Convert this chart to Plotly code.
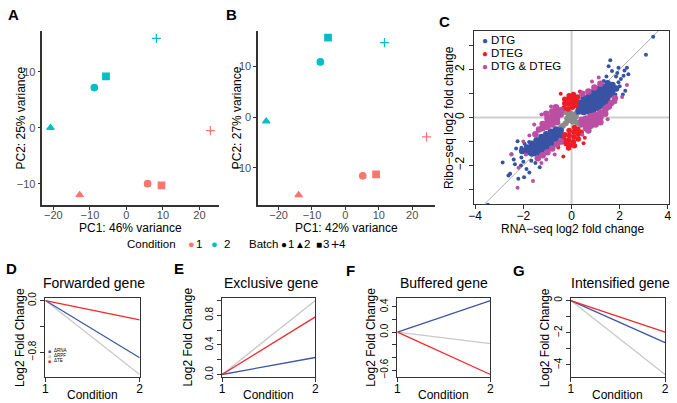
import plotly.graph_objects as go

W, H = 677, 403

# ---------------- data ----------------
# PCA panels (A, B)
pca_condition = [1, 1, 1, 1, 2, 2, 2, 2]
pca_batch = [1, 2, 3, 4, 1, 2, 3, 4]
pca_a_pc1 = [5.8, -12.8, 9.6, 23.0, -8.8, -20.8, -5.6, 8.2]
pca_a_pc2 = [-10.0, -12.0, -10.3, -0.5, 7.2, 0.0, 9.2, 16.0]
pca_b_pc1 = [5.2, -14.0, 9.2, 24.3, -7.5, -23.7, -5.2, 11.7]
pca_b_pc2 = [-11.6, -15.4, -11.3, -3.9, 10.9, -0.8, 15.7, 14.7]
condition_colors = {1: "#F8766D", 2: "#00BFC4"}
batch_symbols = {1: "circle", 2: "triangle-up", 3: "square", 4: "cross-thin"}

# Scatter panel (C): (RNA-seq log2FC, Ribo-seq log2FC)
other_genes = [(0.0, 0.0), (0.12, 0.12), (0.24, 0.24), (0.36, 0.34), (-0.12, -0.12),
               (-0.24, -0.24), (-0.36, -0.35), (0.12, -0.12), (0.24, -0.22), (0.36, -0.32),
               (-0.12, 0.12), (-0.24, 0.22), (-0.36, 0.32), (0.06, 0.0), (-0.06, 0.0),
               (0.0, 0.07), (0.0, -0.07), (0.44, 0.42), (-0.44, -0.42), (0.18, 0.05),
               (-0.18, -0.05), (0.05, -0.18), (-0.05, 0.18)]
dtg_dense = [(0.3, 0.25), (0.3, 0.45), (0.3, 0.62),
             (0.5, 0.22), (0.5, 0.42), (0.5, 0.62), (0.5, 0.8),
             (0.7, 0.25), (0.7, 0.45), (0.7, 0.65), (0.7, 0.85),
             (0.9, 0.3), (0.9, 0.5), (0.9, 0.7), (0.9, 0.9), (0.9, 1.05),
             (1.1, 0.38), (1.1, 0.58), (1.1, 0.78), (1.1, 0.98), (1.1, 1.18),
             (1.3, 0.48), (1.3, 0.68), (1.3, 0.88), (1.3, 1.08), (1.3, 1.28),
             (1.5, 0.65), (1.5, 0.85), (1.5, 1.05), (1.5, 1.25), (1.5, 1.42),
             (1.7, 0.95), (1.7, 1.15), (1.7, 1.35), (1.85, 1.2),
             (-0.45, -0.55), (-0.45, -0.75),
             (-0.65, -0.5), (-0.65, -0.7), (-0.65, -0.9),
             (-0.85, -0.6), (-0.85, -0.8), (-0.85, -1.0), (-0.85, -1.15),
             (-1.05, -0.7), (-1.05, -0.9), (-1.05, -1.1), (-1.05, -1.28),
             (-1.25, -0.82), (-1.25, -1.02), (-1.25, -1.22), (-1.25, -1.4),
             (-1.45, -0.95), (-1.45, -1.15), (-1.45, -1.35), (-1.45, -1.52),
             (-1.65, -1.1), (-1.65, -1.3), (-1.65, -1.5),
             (-1.85, -1.25), (-1.85, -1.45), (-2.05, -1.4)]
dtg_sparse = [(3.39, 3.36), (3.09, 2.61), (1.61, 2.38), (1.54, 2.13), (1.68, 1.93),
              (1.95, 2.07), (2.30, 2.07), (2.36, 1.80), (2.16, 1.73), (2.23, 1.11),
              (2.13, 0.95), (1.82, 0.95), (1.95, 1.46), (1.34, 1.52), (2.05, 1.6),
              (1.85, 1.7), (2.0, 1.3), (1.45, 1.7), (1.9, 1.85), (2.2, 1.95),
              (-2.24, -0.99), (-1.76, -1.03), (-2.08, -1.27), (-2.49, -1.54), (-2.86, -1.88),
              (-2.08, -1.67), (-2.35, -1.95), (-2.55, -2.35), (-2.62, -2.42), (-2.21, -2.56),
              (-1.97, -2.49), (-3.47, -3.64), (-1.32, -2.08), (-1.67, -1.81), (-1.87, -2.15),
              (-2.3, -1.3), (-1.95, -1.1), (-2.1, -2.0), (-1.5, -1.9), (-2.4, -1.75),
              (-2.0, -1.85), (-1.75, -2.3)]
dteg_dense = [(-0.32, 0.38), (-0.28, 0.58), (-0.14, 0.35), (-0.14, 0.55), (-0.14, 0.75),
              (-0.1, 0.9), (0.04, 0.42), (0.04, 0.62), (0.04, 0.8), (0.18, 0.5),
              (0.2, 0.7), (-0.28, 0.76), (0.08, 0.95), (0.25, 0.85),
              (0.12, -0.42), (0.26, -0.5), (-0.1, -0.55), (0.1, -0.62), (0.28, -0.7),
              (-0.28, -0.72), (-0.1, -0.75), (0.1, -0.82), (0.28, -0.9), (-0.3, -0.92),
              (-0.12, -0.95), (0.08, -1.02), (-0.22, -1.1), (-0.05, -1.15), (0.12, -1.18),
              (-0.4, -1.02), (0.4, -0.62), (-0.12, -1.28)]
dteg_sparse = [(-0.34, -1.63), (0.5, -1.08), (0.35, 1.08), (-0.45, 0.98), (0.55, -0.85),
               (-0.55, -1.25)]
both_dense = [(-1.35, -0.5), (-1.2, -0.45), (-1.2, -0.28), (-1.0, -0.4), (-1.0, -0.22),
              (-1.0, -0.05), (-0.8, -0.3), (-0.8, -0.12), (-0.8, 0.06), (-0.6, -0.2),
              (-0.6, -0.02), (-0.6, 0.16), (-0.6, 0.32), (-0.45, 0.12), (-0.45, 0.3),
              (-0.8, 0.25), (-1.05, 0.15), (-0.65, 0.42), (-1.5, -0.7),
              (0.42, -0.1), (0.45, -0.28), (0.6, -0.05), (0.6, -0.25), (0.6, -0.45),
              (0.8, 0.05), (0.8, -0.15), (0.8, -0.35), (1.0, 0.1), (1.0, -0.1),
              (1.0, -0.3), (1.2, 0.2), (1.2, 0.0), (1.2, -0.2), (1.4, 0.35),
              (1.4, 0.15), (0.7, -0.55), (1.55, 0.45),
              (-0.6, -1.12), (-0.8, -1.3), (-1.0, -1.45), (-1.2, -1.58), (-1.4, -1.7),
              (-0.45, -1.0), (0.45, 0.98), (0.7, 1.08), (0.95, 1.25), (1.2, 1.4),
              (1.45, 0.4), (1.65, 0.6), (1.8, 0.8)]
both_sparse = [(-2.24, -2.93), (-1.6, -2.65), (-1.25, -1.9), (-1.9, -1.55), (-1.05, -1.75),
               (-0.7, -1.55), (-2.5, -1.55), (1.13, 1.66), (1.82, 0.64), (2.1, 0.85),
               (-1.75, -0.75), (-1.55, -0.3), (-1.25, 0.12), (-0.85, 0.45), (0.45, -0.72),
               (1.5, -0.08), (-2.0, -1.0), (0.85, 1.5), (2.3, 1.35), (-2.2, -2.1)]

# Line panels (D-G): log2 fold change from condition 1 to condition 2
conditions = [1, 2]
forwarded_rna = [0, -0.89]
forwarded_rpf = [0, -1.15]
forwarded_te = [0, -0.30]
exclusive_rna = [0, 0.23]
exclusive_rpf = [0, 1.0]
exclusive_te = [0, 0.78]
buffered_rna = [0, 0.5]
buffered_rpf = [0, -0.18]
buffered_te = [0, -0.67]
intensified_rna = [0, -2.62]
intensified_rpf = [0, -4.6]
intensified_te = [0, -1.97]

forwarded_ticks = [0, -0.4, -0.8]
forwarded_ticktext = ["0.0", "", "\u22120.8"]
exclusive_ticks = [0, 0.2, 0.4, 0.6, 0.8, 1.0]
exclusive_ticktext = ["0.0", "", "0.4", "", "0.8", ""]
buffered_ticks = [-0.6, -0.4, -0.2, 0.0, 0.2, 0.4]
buffered_ticktext = ["\u22120.6", "", "", "0.0", "", "0.4"]
intensified_ticks = [0, -1, -2, -3, -4]
intensified_ticktext = ["0", "", "\u22122", "", "\u22124"]

# ---------------- styling ----------------
FONT = "Liberation Sans, Arial, Helvetica, sans-serif"
C_BLUE = "#3953A4"
C_RED = "#EE1D25"
C_MAG = "#BB4FA3"
C_GRAY = "#8A8A8A"
L_BLUE = "#3E55A5"
L_GRAY = "#C8C8C8"
L_RED = "#F0282D"


def dx(a, b):
    return [a / W, b / W]


def dy(top, bottom):
    return [1 - bottom / H, 1 - top / H]


def rrange(*series):
    vals = [v for s in series for v in s]
    lo, hi = min(vals), max(vals)
    e = 0.04 * (hi - lo)
    return [lo - e, hi + e]


fig = go.Figure()

# PCA traces
for pc1, pc2, ax in [(pca_a_pc1, pca_a_pc2, ""), (pca_b_pc1, pca_b_pc2, "2")]:
    cols = [condition_colors[c] for c in pca_condition]
    syms = [batch_symbols[b] for b in pca_batch]
    fig.add_trace(go.Scatter(
        x=pc1, y=pc2, mode="markers", xaxis="x" + ax, yaxis="y" + ax,
        marker=dict(color=cols, symbol=syms, size=6.5,
                    line=dict(color=cols, width=1.2)),
        cliponaxis=False, hoverinfo="skip"))


# Scatter C
def xy(pts):
    return [p[0] for p in pts], [p[1] for p in pts]


for pts, col, size in [(other_genes, C_GRAY, 6), (dtg_dense, C_BLUE, 6.5), (dtg_sparse, C_BLUE, 4),
                       (dteg_dense, C_RED, 5.5), (dteg_sparse, C_RED, 4),
                       (both_dense, C_MAG, 6.5), (both_sparse, C_MAG, 4)]:
    xs, ys = xy(pts)
    fig.add_trace(go.Scatter(x=xs, y=ys, mode="markers", xaxis="x3", yaxis="y3",
                             marker=dict(color=col, size=size, line=dict(width=0)),
                             hoverinfo="skip"))

# Line panels
line_sets = [
    (forwarded_rna, forwarded_rpf, forwarded_te, "4"),
    (exclusive_rna, exclusive_rpf, exclusive_te, "5"),
    (buffered_rna, buffered_rpf, buffered_te, "6"),
    (intensified_rna, intensified_rpf, intensified_te, "7"),
]
for rna, rpf, te, ax in line_sets:
    for vals, col in [(rpf, L_GRAY), (rna, L_BLUE), (te, L_RED)]:
        fig.add_trace(go.Scatter(x=conditions, y=vals, mode="lines", xaxis="x" + ax,
                                 yaxis="y" + ax, line=dict(color=col, width=1.3),
                                 hoverinfo="skip"))

# ---------------- axes ----------------
gg_axis = dict(showline=True, linecolor="#333333", linewidth=1.6, mirror=False,
               ticks="outside", ticklen=3, tickwidth=1.1, tickcolor="#333333",
               showgrid=False, zeroline=False,
               tickfont=dict(family=FONT, size=11, color="#4D4D4D"))
r_axis = dict(showline=True, linecolor="#333333", linewidth=1, mirror=True,
              ticks="outside", ticklen=4, tickwidth=1, tickcolor="#333333",
              showgrid=False, zeroline=False,
              tickfont=dict(family=FONT, size=12, color="#000000"))

layout = dict(
    width=W, height=H, margin=dict(l=0, r=0, t=0, b=0),
    paper_bgcolor="white", plot_bgcolor="white", showlegend=False,
    font=dict(family=FONT, color="black"),
)
layout["xaxis"] = dict(gg_axis, domain=dx(37, 216), range=[-23.0, 25.3],
                       tickvals=[-20, -10, 0, 10, 20], anchor="y", ticklabelstandoff=-4)
layout["yaxis"] = dict(gg_axis, domain=dy(25, 203), range=[-13.8, 17.4],
                       tickvals=[-10, 0, 10], anchor="x")
layout["xaxis2"] = dict(gg_axis, domain=dx(256, 435), range=[-26.1, 26.7],
                        tickvals=[-20, -10, 0, 10, 20], anchor="y2", ticklabelstandoff=-4)
layout["yaxis2"] = dict(gg_axis, domain=dy(25, 203), range=[-17.35, 17.1],
                        tickvals=[-10, 0, 10], anchor="x2")
layout["xaxis3"] = dict(r_axis, domain=dx(475, 673), range=[-4.05, 4.05],
                        tickvals=[-4, -2, 0, 2, 4], anchor="y3", ticklabelstandoff=-4)
layout["yaxis3"] = dict(r_axis, domain=dy(25, 202.3), range=[-3.62, 3.62],
                        tickvals=[-3, -2, -1, 0, 1, 2, 3],
                        ticktext=["", "\u22122", "", "0", "", "2", ""],
                        tickangle=-90, anchor="x3")

line_axes = [
    ("4", (40, 135.7), forwarded_ticks, forwarded_ticktext, (forwarded_rna, forwarded_rpf, forwarded_te)),
    ("5", (219.3, 314), exclusive_ticks, exclusive_ticktext, (exclusive_rna, exclusive_rpf, exclusive_te)),
    ("6", (397.3, 491.7), buffered_ticks, buffered_ticktext, (buffered_rna, buffered_rpf, buffered_te)),
    ("7", (573.3, 669), intensified_ticks, intensified_ticktext, (intensified_rna, intensified_rpf, intensified_te)),
]
for ax, (l, r), tv, tt, series in line_axes:
    layout["xaxis" + ax] = dict(r_axis, domain=dx(l, r), range=[1, 2], tickvals=[1, 2],
                                ticktext=["1", "2"], anchor="y" + ax, ticklabelstandoff=-4,
                                tickfont=dict(family=FONT, size=12, color="black"))
    layout["yaxis" + ax] = dict(r_axis, domain=dy(297.5, 379), range=rrange(*series),
                                tickvals=tv, ticktext=tt, tickangle=-90, anchor="x" + ax,
                                tickfont=dict(family=FONT, size=10, color="black"))

# reference lines in C
shapes = [
    dict(type="line", xref="x3", yref="y3", x0=0, x1=0, y0=-3.62, y1=3.62,
         line=dict(color="#CFCFCF", width=2), layer="below"),
    dict(type="line", xref="x3", yref="y3", x0=-4.05, x1=4.05, y0=0, y1=0,
         line=dict(color="#CFCFCF", width=2), layer="below"),
    dict(type="line", xref="x3", yref="y3", x0=-3.62, x1=3.62, y0=-3.62, y1=3.62,
         line=dict(color="#AFAFAF", width=1), layer="below"),
]
layout["shapes"] = shapes

ann = []


def txt(x, y, s, size=12, bold=False, angle=0, xanchor="center", color="black"):
    ann.append(dict(x=x / W, y=1 - y / H, xref="paper", yref="paper", text=("<b>%s</b>" % s) if bold else s,
                    showarrow=False, xanchor=xanchor, yanchor="middle", textangle=angle,
                    borderpad=0, font=dict(family=FONT, size=size, color=color)))


# panel letters
for s, x, y in [("A", 8, 9), ("B", 229, 9), ("C", 445, 16), ("D", 6, 268), ("E", 176, 268),
                ("F", 350, 270), ("G", 521, 270)]:
    txt(x, y, s, size=15, bold=True)

# PCA axis titles
txt(15, 114, "PC2: 25% variance", angle=-90)
txt(126.5, 226, "PC1: 46% variance")
txt(234, 114, "PC2: 27% variance", angle=-90)
txt(345.5, 226, "PC1: 42% variance")

# PCA legend strip
txt(122, 243, "Condition", size=11.5, xanchor="left")
txt(188.5, 243, "\u25CF", size=11, color=condition_colors[1])
txt(196, 243, "1", size=11.5)
txt(211.5, 243, "\u25CF", size=11, color=condition_colors[2])
txt(224, 243, "2", size=11.5)
txt(246, 243, "Batch", size=11.5, xanchor="left")
for sym, num, x in [("\u25CF", "1", 282), ("\u25B2", "2", 298.5), ("\u25A0", "3", 317.5), ("+", "4", 334)]:
    txt(x, 243, sym, size=10 if sym != "+" else 14)
    txt(x + 7.5, 243, num, size=11.5)

# C axis titles and legend
txt(449, 114, "Ribo\u2212seq log2 fold change", angle=-90)
txt(575, 228, "RNA\u2212seq log2 fold change")
for label, col, y in [("DTG", C_BLUE, 35), ("DTEG", C_RED, 48.3), ("DTG &amp; DTEG", C_MAG, 61.7)]:
    txt(486, y, "\u25CF", size=10, color=col)
    txt(491, y, label, size=11.5, xanchor="left")

# line panel titles / labels
for title, cx, ylab_x in [("Forwarded gene", 89, 15), ("Exclusive gene", 269, 185),
                          ("Buffered gene", 445, 371), ("Intensified gene", 624, 547)]:
    txt(cx, 283, title, size=14)
    txt(ylab_x, 338, "Log2 Fold Change", angle=-90)
for l, r in [(40, 135.7), (219.3, 314), (397.3, 491.7), (573.3, 669)]:
    txt((l + r) / 2, 397, "Condition")

# forwarded legend
for label, col, y in [("\u0394RNA", L_BLUE, 351.7), ("\u0394RPF", L_GRAY, 356.7), ("\u0394TE", L_RED, 361.7)]:
    txt(44.5, y, "\u25A0", size=5, color=col)
    txt(48, y, label, size=4.5, xanchor="left")

layout["annotations"] = ann
fig.update_layout(**layout)
fig.write_html("out.html", config={"displayModeBar": False},
               post_script="document.body.style.margin='0px';")
